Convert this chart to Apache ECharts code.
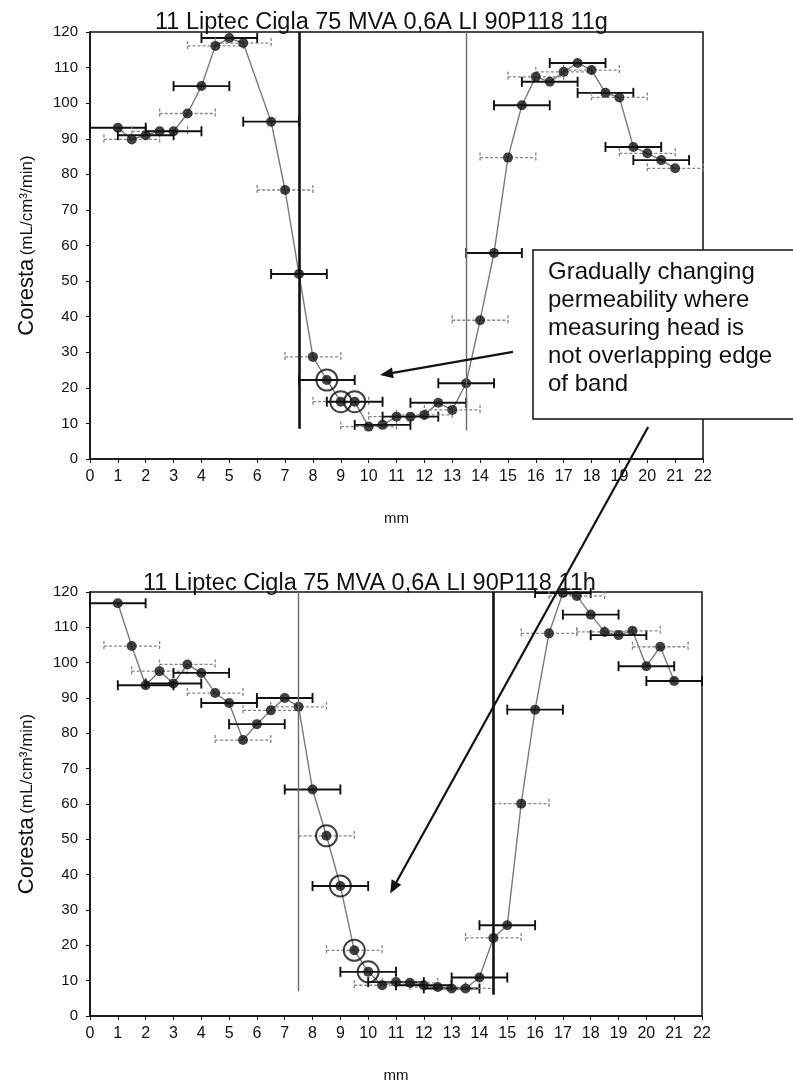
<!DOCTYPE html>
<html>
<head>
<meta charset="utf-8">
<script src="https://cdn.jsdelivr.net/npm/echarts@6.0.0/dist/echarts.min.js"></script>
<style>
  html, body { margin: 0; padding: 0; background: #fff; }
  #chart { width: 793px; height: 1085px; }
</style>
</head>
<body>
<div id="chart"></div>
<script>
// Scan positions across the band (mm) and Coresta permeability readings
const titles = [
  '11 Liptec Cigla 75 MVA 0,6A LI 90P118 11g',
  '11 Liptec Cigla 75 MVA 0,6A LI 90P118 11h'
];
const xAxisName = 'mm';

const position11g = [1, 1.5, 2, 2.5, 3, 3.5, 4, 4.5, 5, 5.5, 6.5, 7, 7.5, 8, 8.5, 9, 9.5, 10, 10.5, 11,
  11.5, 12, 12.5, 13, 13.5, 14, 14.5, 15, 15.5, 16, 16.5, 17, 17.5, 18, 18.5, 19, 19.5, 20, 20.5, 21];
const coresta11g = [93.1, 89.8, 91, 92.1, 92.1, 97.1, 104.8, 116.1, 118.3, 116.9, 94.8, 75.6, 52, 28.7, 22.2, 16.1, 16.1, 9.1, 9.6, 11.9,
  11.9, 12.4, 15.8, 13.8, 21.3, 39, 57.9, 84.7, 99.4, 107.4, 106, 108.8, 111.3, 109.3, 102.9, 101.6, 87.7, 85.9, 84, 81.7];
// half width of the measuring head footprint (mm)
const spread11g = [1, 1, 1, 1, 1, 1, 1, 1, 1, 1, 1, 1, 1, 1, 1, 1, 1, 1, 1, 1,
  1, 1, 1, 1, 1, 1, 1, 1, 1, 1, 1, 1, 1, 1, 1, 1, 1, 1, 1, 1];
const circled11g = [8.5, 9, 9.5];
const bandEdges11g = [7.5, 13.5];
const bandEdgeFloor11g = [8.5, 8];

const position11h = [1, 1.5, 2, 2.5, 3, 3.5, 4, 4.5, 5, 5.5, 6, 6.5, 7, 7.5, 8, 8.5, 9, 9.5, 10, 10.5, 11,
  11.5, 12, 12.5, 13, 13.5, 14, 14.5, 15, 15.5, 16, 16.5, 17, 17.5, 18, 18.5, 19, 19.5, 20, 20.5, 21];
const coresta11h = [116.8, 104.7, 93.6, 97.6, 94.1, 99.5, 97.1, 91.4, 88.6, 78.1, 82.6, 86.5, 90, 87.5, 64.1, 51, 36.8, 18.6, 12.5, 8.7, 9.6,
  9.4, 8.7, 8.2, 7.8, 7.8, 10.9, 22.1, 25.7, 60.1, 86.7, 108.3, 119.7, 118.9, 113.6, 108.7, 107.8, 109, 99, 104.5, 94.8];
const spread11h = [1, 1, 1, 1, 1, 1, 1, 1, 1, 1, 1, 1, 1, 1, 1, 1, 1, 1, 1, 1, 1,
  1, 1, 1, 1, 1, 1, 1, 1, 1, 1, 1, 1, 1, 1, 1, 1, 1, 1, 1, 1];
const circled11h = [8.5, 9, 9.5, 10];
const bandEdges11h = [7.5, 14.5];
const bandEdgeFloor11h = [7, 6];

const noteText = [
  'Gradually changing',
  'permeability where',
  'measuring head is',
  'not overlapping edge',
  'of band'
];

const INK = '#111';

function panelSeries(g, pos, vals, spread, circled, edges, floors, boldEdge) {
  const pts = pos.map((x, i) => [x, vals[i]]);
  return [
    {
      type: 'line', xAxisIndex: g, yAxisIndex: g, data: pts,
      showSymbol: false, symbol: 'none', z: 2, silent: true,
      lineStyle: { color: '#7a7a7a', width: 1.4 },
      markLine: {
        silent: true, symbol: 'none', label: { show: false },
        data: edges.map((x, i) => [
          { coord: [x, floors[i]], lineStyle: i === boldEdge
              ? { color: INK, width: 2.6, type: 'solid' }
              : { color: '#6a6a6a', width: 1.4, type: 'solid' } },
          { coord: [x, 120] }
        ])
      }
    },
    {
      type: 'custom', xAxisIndex: g, yAxisIndex: g, z: 3, silent: true,
      data: pos.map((x, i) => [x - spread[i], x + spread[i], vals[i]]),
      encode: { x: [0, 1], y: 2 },
      renderItem(params, api) {
        const lo = api.coord([api.value(0), api.value(2)]);
        const hi = api.coord([api.value(1), api.value(2)]);
        const light = params.dataIndex % 2 === 1;
        const style = light
          ? { stroke: '#858585', lineWidth: 1.3, lineDash: [3, 2] }
          : { stroke: INK, lineWidth: 1.9 };
        const cap = 5;
        return {
          type: 'group',
          children: [
            { type: 'line', shape: { x1: lo[0], y1: lo[1], x2: hi[0], y2: hi[1] }, style },
            { type: 'line', shape: { x1: lo[0], y1: lo[1] - cap, x2: lo[0], y2: lo[1] + cap }, style },
            { type: 'line', shape: { x1: hi[0], y1: hi[1] - cap, x2: hi[0], y2: hi[1] + cap }, style }
          ]
        };
      }
    },
    {
      type: 'scatter', xAxisIndex: g, yAxisIndex: g, data: pts, z: 4,
      symbol: 'circle', symbolSize: 10, silent: true,
      itemStyle: { color: INK }
    },
    {
      type: 'scatter', xAxisIndex: g, yAxisIndex: g, z: 5, silent: true,
      data: circled.map(x => [x, vals[pos.indexOf(x)]]),
      symbol: 'circle', symbolSize: 21,
      itemStyle: { color: 'rgba(0,0,0,0)', borderColor: INK, borderWidth: 2 }
    }
  ];
}

function xAxis(g) {
  return {
    gridIndex: g, type: 'value', min: 0, max: 22, interval: 1,
    name: xAxisName, nameLocation: 'middle', nameGap: 52,
    nameTextStyle: { fontFamily: 'Liberation Sans', fontSize: 15, color: INK },
    axisLine: { lineStyle: { color: INK, width: 1.6 } },
    axisTick: { length: 4, lineStyle: { color: INK } },
    axisLabel: { fontFamily: 'Liberation Sans', fontSize: 16, color: INK, margin: 10 },
    splitLine: { show: false }
  };
}

function yAxis(g) {
  return {
    gridIndex: g, type: 'value', min: 0, max: 120, interval: 10,
    name: '{a|Coresta} {b|(mL/cm³/min)}', nameLocation: 'middle', nameGap: 52,
    nameTextStyle: {
      color: INK, fontFamily: 'Liberation Sans',
      rich: { a: { fontSize: 22, fontFamily: 'Liberation Sans', color: INK },
              b: { fontSize: 17, fontFamily: 'Liberation Sans', color: INK } }
    },
    axisLine: { lineStyle: { color: INK, width: 1.6 } },
    axisTick: { length: 4, lineStyle: { color: INK } },
    axisLabel: { fontFamily: 'Liberation Sans', fontSize: 15, color: INK, margin: 12 },
    splitLine: { show: false }
  };
}

const chart = echarts.init(document.getElementById('chart'), null, { renderer: 'canvas' });

const titleStyle = { fontFamily: 'Liberation Sans', fontSize: 23.5, fontWeight: 'normal', color: INK };

const option = {
  backgroundColor: '#fff',
  animation: false,
  title: [
    { text: titles[0], left: 155, top: 11, padding: 0, textStyle: titleStyle },
    { text: titles[1], left: 143, top: 572, padding: 0, textStyle: titleStyle }
  ],
  grid: [
    { left: 90, top: 32, width: 613, height: 427, show: true, borderColor: INK, borderWidth: 1.5 },
    { left: 90, top: 592, width: 612, height: 424, show: true, borderColor: INK, borderWidth: 1.5 }
  ],
  xAxis: [xAxis(0), xAxis(1)],
  yAxis: [yAxis(0), yAxis(1)],
  series: [
    ...panelSeries(0, position11g, coresta11g, spread11g, circled11g, bandEdges11g, bandEdgeFloor11g, 0),
    ...panelSeries(1, position11h, coresta11h, spread11h, circled11h, bandEdges11h, bandEdgeFloor11h, 1)
  ]
};
chart.setOption(option);

// Note box and the arrows pointing at the transition zones
function arrow(from, to) {
  const ang = Math.atan2(to[1] - from[1], to[0] - from[0]);
  const len = 13, half = 5.5;
  const bx = to[0] - len * Math.cos(ang), by = to[1] - len * Math.sin(ang);
  const nx = -Math.sin(ang) * half, ny = Math.cos(ang) * half;
  return [
    { type: 'line', z: 20, shape: { x1: from[0], y1: from[1], x2: bx, y2: by },
      style: { stroke: INK, lineWidth: 2.2 } },
    { type: 'polygon', z: 20, shape: { points: [to, [bx + nx, by + ny], [bx - nx, by - ny]] },
      style: { fill: INK } }
  ];
}

const toPx = (g, pt) => chart.convertToPixel({ gridIndex: g }, pt);
const a1From = toPx(0, [15.18, 30.1]);
const a1To = toPx(0, [10.41, 23.6]);
const a2From = toPx(0, [20.03, 9.0]);
const a2To = toPx(1, [10.79, 34.7]);

chart.setOption({
  graphic: [
    { type: 'rect', z: 15, shape: { x: 533, y: 250, width: 290, height: 169 },
      style: { fill: '#fff', stroke: INK, lineWidth: 1.5 } },
    { type: 'text', z: 16, x: 548, y: 258,
      style: { text: noteText.join('\n'), fill: INK, fontFamily: 'Liberation Sans',
               fontSize: 24, lineHeight: 28, verticalAlign: 'top', align: 'left' } },
    ...arrow(a1From, a1To),
    ...arrow(a2From, a2To)
  ]
});
</script>
</body>
</html>
